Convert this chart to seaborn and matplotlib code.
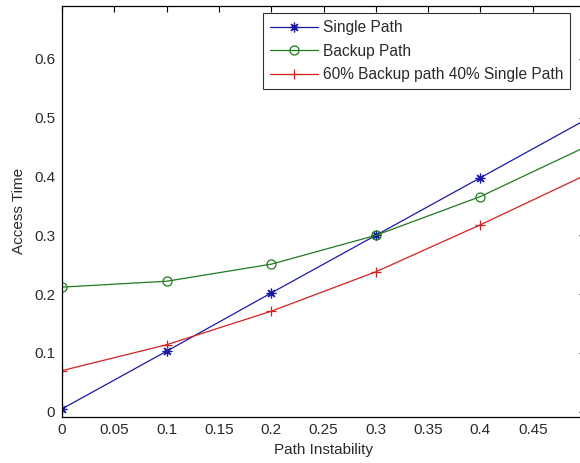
import matplotlib
matplotlib.use("Agg")
import matplotlib.pyplot as plt
import seaborn as sns
import pandas as pd

instability = [0.0, 0.1, 0.2, 0.3, 0.4, 0.5]
single_path = [0.005, 0.103, 0.202, 0.300, 0.398, 0.496]
backup_path = [0.212, 0.222, 0.251, 0.300, 0.366, 0.450]
mixed_path = [0.070, 0.114, 0.171, 0.238, 0.318, 0.402]

series_names = ["Single Path", "Backup Path", "60% Backup path 40% Single Path"]
x_ticks = [0, 0.05, 0.1, 0.15, 0.2, 0.25, 0.3, 0.35, 0.4, 0.45, 0.5]
x_tick_labels = ["0", "0.05", "0.1", "0.15", "0.2", "0.25", "0.3", "0.35", "0.4", "0.45", ""]
y_ticks = [0, 0.1, 0.2, 0.3, 0.4, 0.5, 0.6]
y_tick_labels = ["0", "0.1", "0.2", "0.3", "0.4", "0.5", "0.6"]

sns.set_style("white")
plt.rcParams["font.family"] = ["Liberation Sans", "DejaVu Sans"]

fig = plt.figure(figsize=(5.8, 4.63), dpi=100)
ax = fig.add_axes([62 / 580, (463 - 416.5) / 463, (585 - 62) / 580, (416.5 - 6) / 463])

colors = ["#1a1aa8", "#1f7a1f", "#d42020"]
markers = [(8, 2, 0), "o", "+"]
for name, vals, c, m in zip(series_names, [single_path, backup_path, mixed_path], colors, markers):
    df = pd.DataFrame({"x": instability, "y": vals})
    kw = dict(marker=m, markersize=7 if m != "o" else 6.5, color=c, linewidth=0.9,
              markeredgecolor=c, markeredgewidth=0.9, label=name)
    if m == "o":
        kw["markerfacecolor"] = "none"
    sns.lineplot(data=df, x="x", y="y", ax=ax, **kw)

ax.set_xlim(0, 0.5)
ax.set_ylim(-0.008, 0.690)
ax.set_xticks(x_ticks)
ax.set_xticklabels(x_tick_labels)
ax.set_yticks(y_ticks)
ax.set_yticklabels(y_tick_labels)
ax.tick_params(direction="in", length=4, width=0.8, top=True, right=True,
               labelsize=11, colors="black", pad=5)
for lbl in ax.get_xticklabels() + ax.get_yticklabels():
    lbl.set_color("#2a2a2a")
for s in ax.spines.values():
    s.set_visible(True)
    s.set_color("black")
    s.set_linewidth(0.9)

ax.set_xlabel("Path Instability", fontsize=11, color="#2a2a2a", labelpad=4)
ax.set_ylabel("Access Time", fontsize=11, color="#2a2a2a", labelpad=6)

leg = ax.legend(loc="upper left", bbox_to_anchor=((263 - 62) / 523, (416.5 - 13) / 410.5),
                fontsize=11.2, frameon=True, fancybox=False, edgecolor="black",
                borderpad=0.45, labelspacing=0.55, handlelength=3.1, handletextpad=0.3,
                borderaxespad=0)
leg.get_frame().set_linewidth(0.8)
for t in leg.get_texts():
    t.set_color("#2a2a2a")

fig.savefig("out.png", dpi=100)
